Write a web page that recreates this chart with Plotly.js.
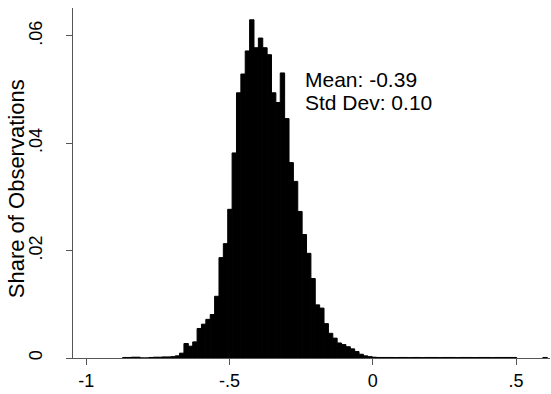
<!DOCTYPE html>
<html>
<head>
<meta charset="utf-8">
<script src="https://cdn.plot.ly/plotly-3.0.1.min.js"></script>
<style>html,body{margin:0;padding:0;background:#fff;}#chart{width:551px;height:394px;}</style>
</head>
<body>
<div id="chart"></div>
<script>
// Bin centers (x) of the histogram
var binCenters = [
  -0.8654, -0.8501, -0.8348, -0.8196, -0.8043, -0.7890, -0.7737, -0.7584, -0.7432, -0.7279,
  -0.7126, -0.6973, -0.6820, -0.6668, -0.6515, -0.6362, -0.6209, -0.6056, -0.5904, -0.5751,
  -0.5598, -0.5445, -0.5292, -0.5140, -0.4987, -0.4834, -0.4681, -0.4528, -0.4376, -0.4223,
  -0.4070, -0.3917, -0.3764, -0.3612, -0.3459, -0.3306, -0.3153, -0.3000, -0.2848, -0.2695,
  -0.2542, -0.2389, -0.2236, -0.2084, -0.1931, -0.1778, -0.1625, -0.1472, -0.1320, -0.1167,
  -0.1014, -0.0861, -0.0708, -0.0556, -0.0403, -0.0250, -0.0097, 0.0056, 0.0208, 0.0361,
  0.0514, 0.0667, 0.0820, 0.0972, 0.1125, 0.1278, 0.1431, 0.1584, 0.1736, 0.1889,
  0.2042, 0.2195, 0.2348, 0.2500, 0.2653, 0.2806, 0.2959, 0.3112, 0.3264, 0.3417,
  0.3570, 0.3723, 0.3876, 0.4028, 0.4181, 0.4334, 0.4487, 0.4640, 0.4792, 0.4945,
  0.6014
];
// Share of observations in each bin
var shares = [
  0.0001, 0.0001, 0.00015, 0.00015, 0, 0, 0.0001, 0.00015, 0.00015, 0.0002,
  0.0002, 0.00025, 0.0004, 0.0009, 0.0027, 0.0022, 0.0030, 0.0055, 0.0063, 0.0072,
  0.0081, 0.0115, 0.0187, 0.0213, 0.0277, 0.0382, 0.0494, 0.0529, 0.0572, 0.0630,
  0.0578, 0.0596, 0.0578, 0.0565, 0.0494, 0.0476, 0.0531, 0.0446, 0.0364, 0.0329,
  0.0273, 0.0230, 0.0195, 0.0148, 0.0099, 0.0093, 0.0064, 0.0046, 0.0037, 0.0028,
  0.0025, 0.0021, 0.0017, 0.0012, 0.0007, 0.0004, 0.00025, 0.00015, 0.0001, 0.0001,
  0.0001, 0.0001, 0.00008, 0.0001, 0.0001, 0.00008, 0.0001, 0.0001, 0.00008, 0.0001,
  0.0001, 0.0001, 0.00008, 0.0001, 0.0001, 0.0001, 0.00008, 0.0001, 0.0001, 0.0001,
  0.00008, 0.0001, 0.0001, 0.0001, 0.00008, 0.0001, 0.0001, 0.0001, 0.0001, 0.0001,
  0.0001
];
var binWidth = 0.01528;

var xTickVals = [-1, -0.5, 0, 0.5];
var xTickText = ['-1', '-.5', '0', '.5'];
var yTickVals = [0, 0.02, 0.04, 0.06];
var yTickText = ['0', '.02', '.04', '.06'];

var yTitle = 'Share of Observations';
var statLines = ['Mean: -0.39', 'Std Dev: 0.10'];

var font = 'Liberation Sans, Arial, sans-serif';

var trace = {
  type: 'bar',
  x: binCenters,
  y: shares,
  width: binWidth,
  marker: {color: '#000000', line: {color: '#000000', width: 1}},
  hoverinfo: 'x+y'
};

var layout = {
  width: 551,
  height: 394,
  margin: {l: 73, r: 1, t: 8, b: 36},
  paper_bgcolor: '#ffffff',
  plot_bgcolor: '#ffffff',
  showlegend: false,
  bargap: 0,
  font: {family: font, color: '#000000', size: 18},
  xaxis: {
    range: [-1.0464, 0.6186],
    tickmode: 'array',
    tickvals: xTickVals,
    ticktext: xTickText,
    ticks: 'outside',
    ticklen: 6,
    tickwidth: 1,
    tickcolor: '#555555',
    showline: true,
    linecolor: '#555555',
    linewidth: 1,
    showgrid: false,
    zeroline: false,
    automargin: false,
    tickfont: {family: font, size: 18, color: '#000000'}
  },
  yaxis: {
    range: [0, 0.0652],
    tickmode: 'array',
    tickvals: yTickVals,
    ticktext: yTickText,
    tickangle: -90,
    ticks: 'outside',
    ticklen: 6,
    tickwidth: 1,
    tickcolor: '#555555',
    ticklabelstandoff: 17,
    showline: true,
    linecolor: '#555555',
    linewidth: 1,
    showgrid: false,
    zeroline: false,
    automargin: false,
    tickfont: {family: font, size: 18, color: '#000000'}
  },
  annotations: [
    {x: -0.1195, y: 0.485, xref: 'paper', yref: 'paper', text: yTitle, showarrow: false,
     textangle: -90, xanchor: 'center', yanchor: 'middle',
     font: {family: font, size: 22, color: '#000000'}},
    {x: -0.243, y: 0.0519, xref: 'x', yref: 'y', text: statLines[0], showarrow: false,
     xanchor: 'left', yanchor: 'middle', font: {family: font, size: 21, color: '#000000'}},
    {x: -0.243, y: 0.0476, xref: 'x', yref: 'y', text: statLines[1], showarrow: false,
     xanchor: 'left', yanchor: 'middle', font: {family: font, size: 21, color: '#000000'}}
  ]
};

Plotly.newPlot('chart', [trace], layout, {displayModeBar: false, staticPlot: true});
</script>
</body>
</html>
